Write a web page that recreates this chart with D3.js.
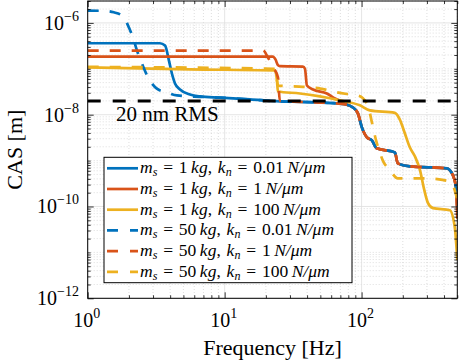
<!DOCTYPE html>
<html>
<head>
<meta charset="utf-8">
<script src="https://cdn.jsdelivr.net/npm/d3@7"></script>
<style>
  body { margin: 0; background: #fff; }
  text { font-family: "Liberation Serif", serif; fill: #000; }
</style>
</head>
<body>
<script>
var width = 461, height = 361;

// CAS curves, [frequency Hz, CAS m]
var ms1_kn001 = [[1,3.6e-7],[3.37,3.6e-7],[3.67,3.2e-7],[3.92,1.51e-7],[4.12,7.9e-8],[4.34,4.8e-8],[4.72,3.55e-8],[5.58,2.75e-8],[6.6,2.5e-8],[9.25,2.35e-8],[15.3,2.15e-8],[25.3,1.95e-8],[35.5,1.9e-8],[58.8,1.8e-8],[78.2,1.65e-8],[86.4,1.44e-8],[94,1.07e-8],[100.5,5.3e-9],[109.4,3.2e-9],[119,2.76e-9],[129,1.85e-9],[175,1.51e-9],[184,8.7e-10],[225,7.5e-10],[420,6.8e-10],[464,4.8e-10],[490,2.5e-10],[500,1.0e-10]];
var ms1_kn1 = [[1,1.85e-7],[22.5,1.85e-7],[23.5,1.6e-7],[24.5,1.2e-7],[25.3,1.14e-7],[37.3,1.12e-7],[38.6,1.0e-7],[39.9,4.33e-8],[44.2,3.55e-8],[55.8,2.9e-8],[63.9,2.26e-8],[69.5,2.0e-8],[78.2,1.65e-8],[86.4,1.44e-8],[94,1.07e-8],[100.5,5.3e-9],[109.4,3.2e-9],[119,2.76e-9],[129,1.85e-9],[175,1.51e-9],[184,8.7e-10],[225,7.5e-10],[420,6.8e-10],[464,4.8e-10],[490,2.5e-10],[500,5.5e-11]];
var ms1_kn100 = [[1,1.07e-7],[5.58,9.7e-8],[23.3,9.2e-8],[24.1,5.6e-8],[24.5,3.2e-8],[35.5,2.9e-8],[49.6,2.5e-8],[69.5,2.05e-8],[97.2,1.6e-8],[115,1.24e-8],[175,1.1e-8],[190,7.9e-9],[206,4.1e-9],[225,1.95e-9],[245,1.24e-9],[267,6.2e-10],[285,2.5e-10],[305,1.2e-10],[332,9.2e-11],[441,8.3e-11],[480,3.4e-11],[500,6.8e-12]];
var ms50_kn001 = [[1,1.85e-6],[1.3,1.83e-6],[1.55,1.7e-6],[1.78,1.44e-6],[1.9,1.1e-6],[2.0,7.9e-7],[2.14,4.8e-7],[2.29,2.5e-7],[2.49,1.3e-7],[2.76,6.5e-8],[3.2,3.7e-8],[3.79,3.05e-8],[4.49,2.63e-8],[6.6,2.45e-8],[9.25,2.35e-8],[15.3,2.15e-8],[25.3,1.95e-8],[35.5,1.9e-8],[58.8,1.8e-8],[78.2,1.65e-8],[86.4,1.44e-8],[94,1.07e-8],[100.5,5.3e-9],[109.4,3.2e-9],[119,2.76e-9],[129,1.85e-9],[175,1.51e-9],[184,8.7e-10],[225,7.5e-10],[420,6.8e-10],[464,4.8e-10],[490,2.5e-10],[500,1.0e-10]];
var ms50_kn1 = [[1,2.5e-7],[19.1,2.5e-7],[20.7,1.76e-7],[22.5,1.1e-7],[24.5,6.5e-8],[25.3,2.0e-8],[35.5,1.9e-8],[58.8,1.8e-8],[78.2,1.65e-8],[86.4,1.44e-8],[94,1.07e-8],[100.5,5.3e-9],[109.4,3.2e-9],[119,2.76e-9],[129,1.85e-9],[175,1.51e-9],[184,8.7e-10],[225,7.5e-10],[420,6.8e-10],[464,4.8e-10],[490,2.5e-10],[500,5.5e-11]];
var ms50_kn100 = [[1,1.1e-7],[23.3,1.0e-7],[24.6,4.3e-8],[35,4.1e-8],[50,3.7e-8],[65,3.1e-8],[80,2.8e-8],[95,2.6e-8],[111,1.59e-8],[119,6.8e-9],[127,2.9e-9],[136,1.5e-9],[143,1.0e-9],[161,6.2e-10],[184,4.1e-10],[290,4.1e-10],[427,3.6e-10],[464,2.9e-10],[500,1.4e-10]];

var seriesData = [ms1_kn001, ms1_kn1, ms1_kn100, ms50_kn001, ms50_kn1, ms50_kn100];
var seriesMass = ["1", "1", "1", "50", "50", "50"];
var seriesStiff = ["0.01", "1", "100", "0.01", "1", "100"];
var seriesColor = ["#0072BD", "#D95319", "#EDB120", "#0072BD", "#D95319", "#EDB120"];
var seriesDashed = [false, false, false, true, true, true];

var rmsValue = 2e-8;
var rmsLabel = "20 nm RMS";

var xMajor = [1, 10, 100];
var yMajor = [1e-12, 1e-10, 1e-8, 1e-6];

var svg = d3.select("body").append("svg")
            .attr("width", width)
            .attr("height", height);

var plot = {left: 87.7, right: 457.3, top: 1, bottom: 298.3};

var x = d3.scaleLog().domain([1, 500]).range([plot.left, plot.right]);
var y = d3.scaleLog().domain([1e-12, 3e-6]).range([plot.bottom, plot.top]);

// minor tick positions
var xMinor = [];
for (var e = 0; e <= 2; e++) {
  for (var m = 2; m <= 9; m++) {
    var v = m * Math.pow(10, e);
    if (v <= 500) xMinor.push(v);
  }
}
var yMinor = [];
for (var e = -12; e <= -6; e++) {
  for (var m = 1; m <= 9; m++) {
    var v = m * Math.pow(10, e);
    if (v > 3e-6) continue;
    if (m == 1 && yMajor.indexOf(v) >= 0) continue;
    yMinor.push(v);
  }
}

// grid
var grid = svg.append("g");
grid.selectAll(".xminor").data(xMinor).enter().append("line")
    .attr("x1", function(d){ return x(d); }).attr("x2", function(d){ return x(d); })
    .attr("y1", plot.top).attr("y2", plot.bottom)
    .attr("stroke", "#c8c8c8").attr("stroke-width", 0.6).attr("stroke-dasharray", "1,2");
grid.selectAll(".yminor").data(yMinor).enter().append("line")
    .attr("y1", function(d){ return y(d); }).attr("y2", function(d){ return y(d); })
    .attr("x1", plot.left).attr("x2", plot.right)
    .attr("stroke", "#c8c8c8").attr("stroke-width", 0.6).attr("stroke-dasharray", "1,2");
grid.selectAll(".xmajor").data(xMajor).enter().append("line")
    .attr("x1", function(d){ return x(d); }).attr("x2", function(d){ return x(d); })
    .attr("y1", plot.top).attr("y2", plot.bottom)
    .attr("stroke", "#dedede").attr("stroke-width", 0.8);
grid.selectAll(".ymajor").data(yMajor).enter().append("line")
    .attr("y1", function(d){ return y(d); }).attr("y2", function(d){ return y(d); })
    .attr("x1", plot.left).attr("x2", plot.right)
    .attr("stroke", "#dedede").attr("stroke-width", 0.8);

// curves
svg.append("clipPath").attr("id", "clip").append("rect")
   .attr("x", plot.left).attr("y", plot.top)
   .attr("width", plot.right - plot.left).attr("height", plot.bottom - plot.top);

var lineFunction = d3.line()
                     .x(function(d){ return x(d[0]); })
                     .y(function(d){ return y(d[1]); })
                     .curve(d3.curveMonotoneX);

var curves = svg.append("g").attr("clip-path", "url(#clip)");
for (var i = 0; i < seriesData.length; i++) {
  curves.append("path")
        .attr("d", lineFunction(seriesData[i]))
        .attr("fill", "none")
        .attr("stroke", seriesColor[i])
        .attr("stroke-width", 2.7)
        .attr("stroke-linejoin", "round")
        .attr("stroke-dasharray", seriesDashed[i] ? "11,11" : null);
}

// RMS line
curves.append("line")
      .attr("x1", plot.left).attr("x2", plot.right)
      .attr("y1", y(rmsValue)).attr("y2", y(rmsValue))
      .attr("stroke", "#000").attr("stroke-width", 3)
      .attr("stroke-dasharray", "13,12");
svg.append("text")
   .attr("x", 116).attr("y", 121)
   .style("font-size", "21px")
   .text(rmsLabel);

// axes (ticks inward on all four sides)
function styleAxis(g) {
  g.select(".domain").remove();
  g.selectAll(".tick line").attr("stroke", "#000").attr("stroke-width", 0.8);
  g.selectAll(".tick text").remove();
}
svg.append("g").attr("transform", "translate(" + plot.left + ",0)")
   .call(d3.axisLeft(y).tickValues(yMajor).tickSize(-6)).call(styleAxis);
svg.append("g").attr("transform", "translate(" + plot.left + ",0)")
   .call(d3.axisLeft(y).tickValues(yMinor).tickSize(-3)).call(styleAxis);
svg.append("g").attr("transform", "translate(" + plot.right + ",0)")
   .call(d3.axisRight(y).tickValues(yMajor).tickSize(-6)).call(styleAxis);
svg.append("g").attr("transform", "translate(" + plot.right + ",0)")
   .call(d3.axisRight(y).tickValues(yMinor).tickSize(-3)).call(styleAxis);
svg.append("g").attr("transform", "translate(0," + plot.bottom + ")")
   .call(d3.axisBottom(x).tickValues(xMajor).tickSize(-6)).call(styleAxis);
svg.append("g").attr("transform", "translate(0," + plot.bottom + ")")
   .call(d3.axisBottom(x).tickValues(xMinor).tickSize(-3)).call(styleAxis);
svg.append("g").attr("transform", "translate(0," + plot.top + ")")
   .call(d3.axisTop(x).tickValues(xMajor).tickSize(-6)).call(styleAxis);
svg.append("g").attr("transform", "translate(0," + plot.top + ")")
   .call(d3.axisTop(x).tickValues(xMinor).tickSize(-3)).call(styleAxis);

svg.append("rect")
   .attr("x", plot.left).attr("y", plot.top)
   .attr("width", plot.right - plot.left).attr("height", plot.bottom - plot.top)
   .attr("fill", "none").attr("stroke", "#000").attr("stroke-width", 1);

// tick labels
function powLabel(t, exp) {
  t.append("tspan").text("10");
  t.append("tspan").attr("dy", -9).style("font-size", "14px")
   .text(exp < 0 ? "\u2212" + (-exp) : String(exp));
}
yMajor.forEach(function(v){
  var t = svg.append("text")
             .attr("x", 79).attr("y", y(v) + 7)
             .attr("text-anchor", "end")
             .style("font-size", "20px");
  powLabel(t, Math.round(Math.log10(v)));
});
xMajor.forEach(function(v){
  var t = svg.append("text")
             .attr("x", x(v) - 1).attr("y", 327)
             .attr("text-anchor", "middle")
             .style("font-size", "20px");
  powLabel(t, Math.round(Math.log10(v)));
});

// axis labels
svg.append("text")
   .attr("x", (plot.left + plot.right) / 2).attr("y", 355)
   .attr("text-anchor", "middle")
   .style("font-size", "22px")
   .text("Frequency [Hz]");
svg.append("text")
   .attr("transform", "translate(22," + ((plot.top + plot.bottom) / 2) + ") rotate(-90)")
   .attr("text-anchor", "middle")
   .style("font-size", "22px")
   .text("CAS [m]");

// legend
var legend = svg.append("g");
legend.append("rect")
      .attr("x", 104).attr("y", 157.3)
      .attr("width", 248).attr("height", 125.4)
      .attr("fill", "#fff").attr("stroke", "#000").attr("stroke-width", 1);
for (var i = 0; i < seriesData.length; i++) {
  var ly = 168.3 + i * 20.7;
  legend.append("line")
        .attr("x1", 107).attr("x2", 138)
        .attr("y1", ly).attr("y2", ly)
        .attr("stroke", seriesColor[i]).attr("stroke-width", 2.7)
        .attr("stroke-dasharray", seriesDashed[i] ? "11,12" : null);
  var t = legend.append("text")
                .attr("x", 140).attr("y", ly + 5)
                .style("font-size", "17.5px");
  t.append("tspan").style("font-style", "italic").text("m");
  t.append("tspan").style("font-style", "italic").style("font-size", "12px").attr("dy", 3).text("s");
  t.append("tspan").attr("dy", -3).text("\u2004=\u2004" + seriesMass[i] + "\u2009");
  t.append("tspan").style("font-style", "italic").text("kg");
  t.append("tspan").text(",\u2004");
  t.append("tspan").style("font-style", "italic").text("k");
  t.append("tspan").style("font-style", "italic").style("font-size", "12px").attr("dy", 3).text("n");
  t.append("tspan").attr("dy", -3).text("\u2004=\u2004" + seriesStiff[i] + "\u2009");
  t.append("tspan").style("font-style", "italic").text("N/\u03bcm");
}
</script>
</body>
</html>
